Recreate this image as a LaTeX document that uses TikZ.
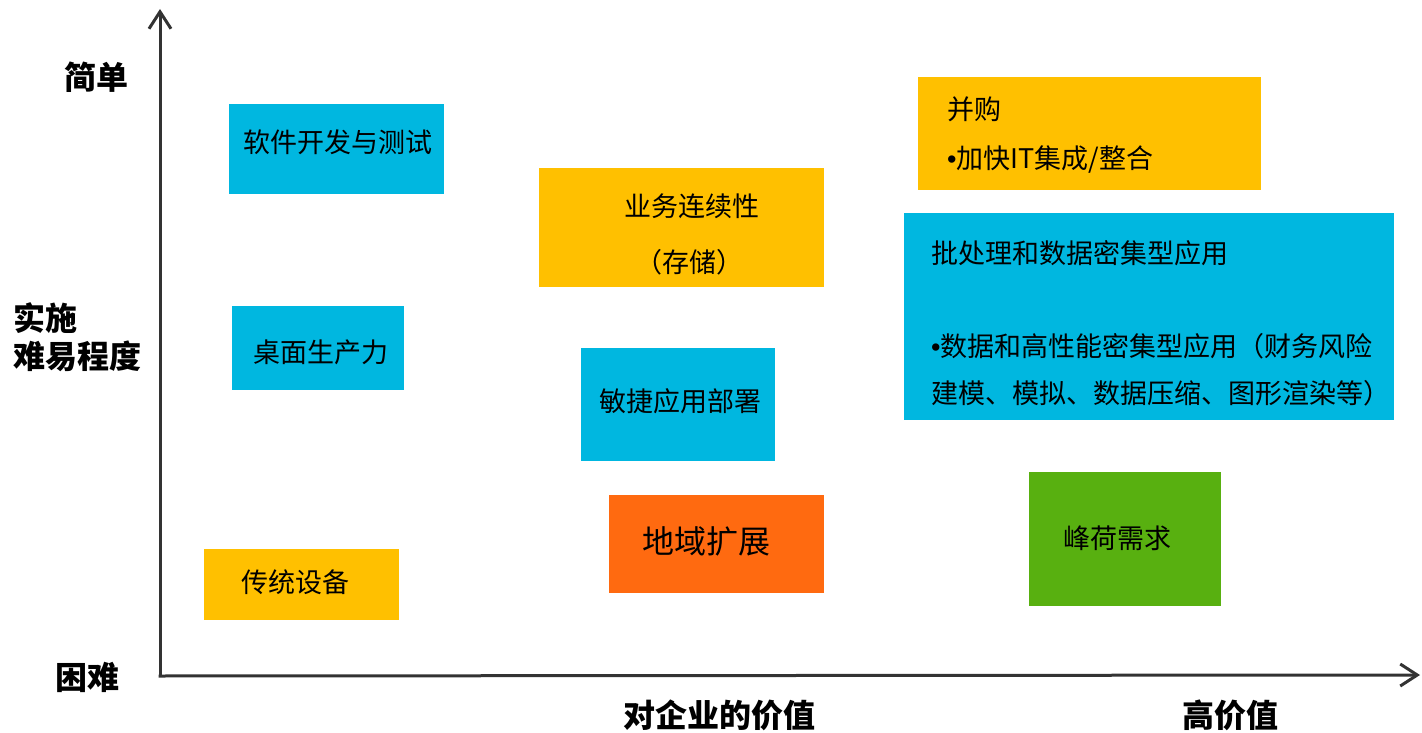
\documentclass[tikz,border=0pt]{standalone}
\usepackage{fontspec}
\setmainfont{Noto Sans CJK SC}
\newfontfamily\bulletfont{Liberation Sans}
\usetikzlibrary{arrows.meta}
\definecolor{cblue}{RGB}{0,183,224}
\definecolor{cgold}{RGB}{255,192,0}
\definecolor{corange}{RGB}{255,106,16}
\definecolor{cgreen}{RGB}{88,176,16}
\definecolor{caxis}{RGB}{51,51,51}
\newcommand{\mybul}{{\bulletfont •}}
\tikzset{
  box/.style={draw=none, inner sep=0pt, outer sep=0pt},
  txt/.style={inner sep=0pt, anchor=base west, text=black, font=\fontsize{27}{47}\selectfont},
  bigtxt/.style={inner sep=0pt, anchor=base west, text=black, font=\fontsize{32}{40}\selectfont},
  axlabel/.style={inner sep=0pt, anchor=base west, text=black, font=\fontsize{32}{38}\selectfont\bfseries},
  axis/.style={draw=caxis, line width=3pt, -{Straight Barb[length=17pt,width=22pt,line width=3pt]}}
}
\begin{document}
\begin{tikzpicture}[x=1pt,y=-1pt]
\useasboundingbox (0,0) rectangle (1422,733);
% boxes
\node[box, fill=cblue, minimum width=215pt, minimum height=90pt] (sw) at (336.5,149) {};
\node[box, fill=cblue, minimum width=172pt, minimum height=84pt] (desk) at (318,348) {};
\node[box, fill=cgold, minimum width=195pt, minimum height=71pt] (legacy) at (301.5,584.5) {};
\node[box, fill=cgold, minimum width=285pt, minimum height=119pt] (bc) at (681.5,227.5) {};
\node[box, fill=cblue, minimum width=194pt, minimum height=113pt] (agile) at (678,404.5) {};
\node[box, fill=corange, minimum width=215pt, minimum height=98pt] (geo) at (716.5,544) {};
\node[box, fill=cgold, minimum width=343pt, minimum height=113pt] (ma) at (1089.5,133.5) {};
\node[box, fill=cblue, minimum width=490pt, minimum height=207pt] (batch) at (1149,316.5) {};
\node[box, fill=cgreen, minimum width=192pt, minimum height=134pt] (peak) at (1125,539) {};
% texts
\node[txt] (swt) at (243,153) {软件开发与测试};
\node[txt] (deskt) at (253,362) {桌面生产力};
\node[txt] (legacyt) at (241,592) {传统设备};
\node[txt] (bct1) at (624,216) {业务连续性};
\node[txt] (bct2) at (635,272) {（存储）};
\node[txt] (agilet) at (599,411) {敏捷应用部署};
\node[bigtxt] (geot) at (642,553) {地域扩展};
\node[txt] (mat1) at (947,120) {并购};
\node[txt] (mat2) at (947,168) {\mybul 加快IT集成/整合};
\node[txt] (batcht1) at (931,263) {批处理和数据密集型应用};
\node[txt] (batcht2) at (931,356) {\mybul 数据和高性能密集型应用（财务风险};
\node[txt] (batcht3) at (931,403) {建模、模拟、数据压缩、图形渲染等）};
\node[txt] (peakt) at (1063,548) {峰荷需求};
% axes
\coordinate (o) at (160,676);
\coordinate (ytop) at (160,9);
\coordinate (xend) at (1420,675);
\draw[axis] (o) -- (ytop);
\draw[axis] ([xshift=-1.5pt]o) -- (xend);
% axis labels
\node[axlabel] (easy) at (64,90) {简单};
\node[axlabel] (diff1) at (13,330) {实施};
\node[axlabel] (diff2) at (13,368) {难易程度};
\node[axlabel] (hard) at (55,689) {困难};
\node[axlabel] (value) at (623,727) {对企业的价值};
\node[axlabel] (high) at (1182,727) {高价值};
\end{tikzpicture}
\end{document}
